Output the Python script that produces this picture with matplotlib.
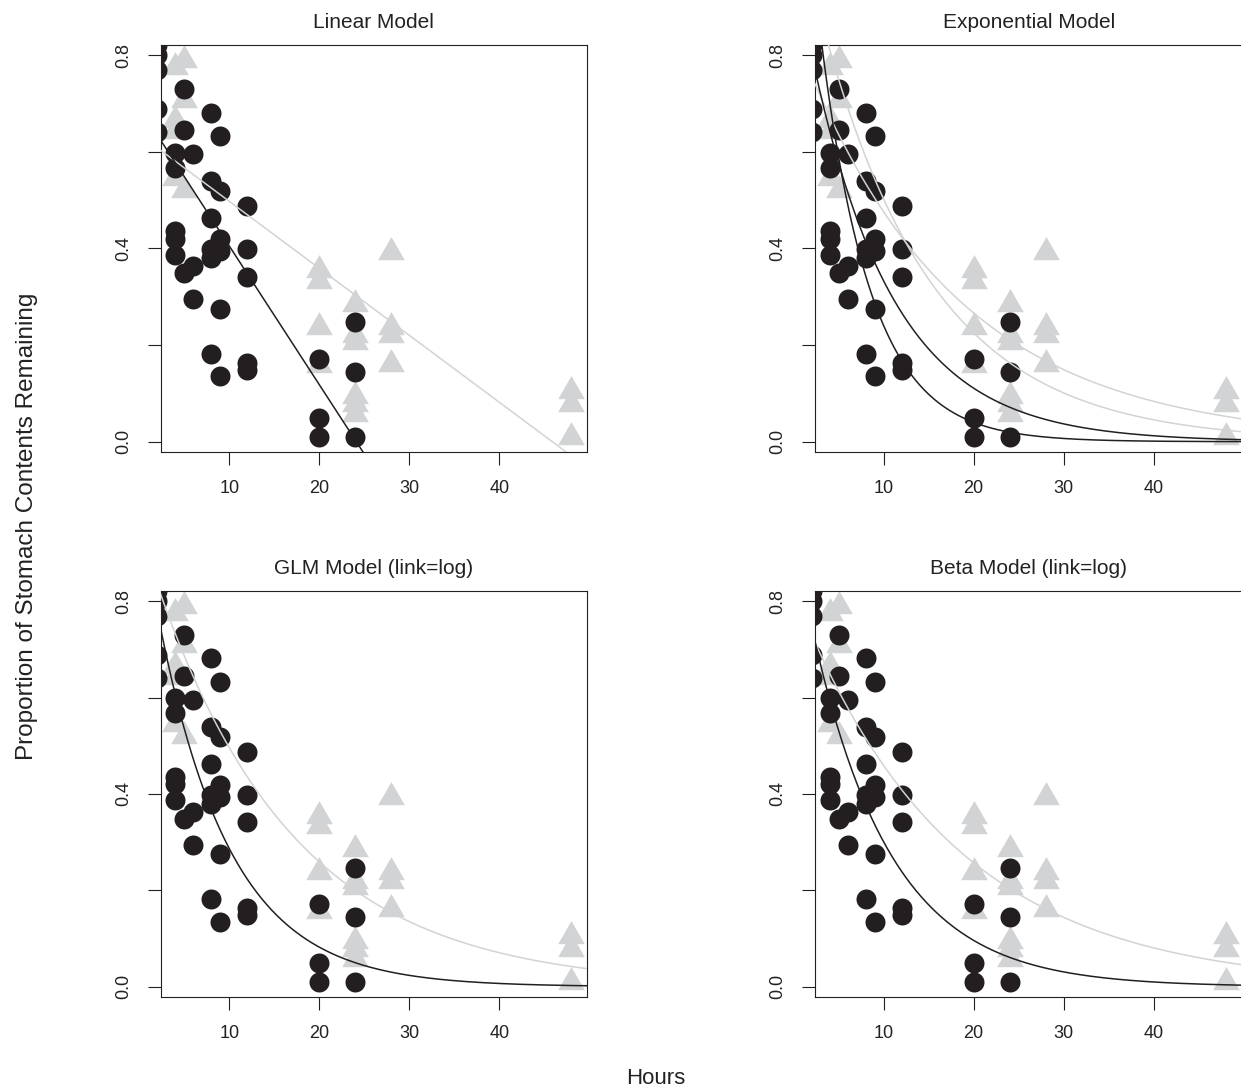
import matplotlib.pyplot as plt
import numpy as np

plt.rcParams['font.family'] = ['Liberation Sans', 'DejaVu Sans']

# observed proportions (black circles)
circle_hours = [2, 2, 2, 2, 2,
                4, 4, 4, 4, 4,
                5, 5, 5,
                6, 6, 6,
                8, 8, 8, 8, 8, 8,
                9, 9, 9, 9, 9, 9,
                12, 12, 12, 12, 12,
                20, 20, 20,
                24, 24, 24]
circle_props = [0.82, 0.80, 0.77, 0.688, 0.64,
                0.598, 0.567, 0.436, 0.420, 0.387,
                0.730, 0.645, 0.349,
                0.595, 0.363, 0.295,
                0.681, 0.539, 0.463, 0.398, 0.380, 0.182,
                0.633, 0.519, 0.419, 0.394, 0.275, 0.135,
                0.488, 0.398, 0.341, 0.163, 0.149,
                0.171, 0.049, 0.010,
                0.247, 0.145, 0.010]

# observed proportions (grey triangles)
tri_hours = [4, 4, 4, 4,
             5, 5, 5,
             20, 20, 20, 20,
             24, 24, 24, 24, 24, 24,
             28, 28, 28, 28,
             48, 48, 48]
tri_props = [0.775, 0.666, 0.642, 0.545,
             0.79, 0.708, 0.521,
             0.355, 0.333, 0.238, 0.158,
             0.285, 0.22, 0.207, 0.095, 0.078, 0.057,
             0.393, 0.237, 0.22, 0.161,
             0.105, 0.078, 0.009]

# fitted coefficients
lin_black = [0.692, -0.0287]       # intercept, slope
lin_grey = [0.636, -0.01386]
exp_black = [[1.44, 0.179], [1.0, 0.11]]   # a * exp(-b * t)
exp_grey = [[0.85, 0.058], [1.12, 0.0802]]
glm_black = [1.0, 0.125]
glm_grey = [0.95, 0.065]
beta_black = [0.94, 0.114]
beta_grey = [0.82, 0.058]

titles = ['Linear Model', 'Exponential Model', 'GLM Model (link=log)', 'Beta Model (link=log)']

dark = '#231f20'
grey = '#d1d3d4'
W, H = 1241, 1090

# R's filled triangle (pch 17) is centred on its centroid
tri_marker = [(0, 1), (-0.866, -0.5), (0.866, -0.5)]

fig = plt.figure(figsize=(W / 100, H / 100), dpi=100)

boxes = [(160.7, 45, 426, 406.7), (815, 45, 428, 406.7),
         (160.7, 591, 426, 405.7), (815, 591, 428, 405.7)]
t = np.linspace(0, 55, 400)

for i, (x0, y0, w, h) in enumerate(boxes):
    ax = fig.add_axes([x0 / W, 1 - (y0 + h) / H, w / W, h / H])
    ax.scatter(tri_hours, tri_props, marker=tri_marker, s=22.2 ** 2, color=grey,
               linewidths=0, zorder=2, clip_on=True)
    ax.scatter(circle_hours, circle_props, marker='o', s=14.4 ** 2, color=dark,
               linewidths=0, zorder=3, clip_on=True)

    if i == 0:
        ax.plot(t, lin_grey[0] + lin_grey[1] * t, color=grey, lw=1.1, zorder=4)
        ax.plot(t, lin_black[0] + lin_black[1] * t, color=dark, lw=1.1, zorder=4)
    elif i == 1:
        for a, b in exp_grey:
            ax.plot(t, a * np.exp(-b * t), color=grey, lw=1.1, zorder=4)
        for a, b in exp_black:
            ax.plot(t, a * np.exp(-b * t), color=dark, lw=1.1, zorder=4)
    elif i == 2:
        ax.plot(t, glm_grey[0] * np.exp(-glm_grey[1] * t), color=grey, lw=1.1, zorder=4)
        ax.plot(t, glm_black[0] * np.exp(-glm_black[1] * t), color=dark, lw=1.1, zorder=4)
    else:
        ax.plot(t, beta_grey[0] * np.exp(-beta_grey[1] * t), color=grey, lw=1.1, zorder=4)
        ax.plot(t, beta_black[0] * np.exp(-beta_black[1] * t), color=dark, lw=1.1, zorder=4)

    ax.set_xlim(2.378, 2.378 + w / 9.0)
    ax.set_ylim(-0.0207, 0.821)
    ax.set_xticks([10, 20, 30, 40])
    ax.set_yticks([0.0, 0.2, 0.4, 0.6, 0.8])
    ax.set_yticklabels(['0.0', '', '0.4', '', '0.8'], rotation=90, va='center')
    ax.tick_params(direction='out', length=9.4, width=0.8, color=dark,
                   labelsize=13, pad=11, labelcolor='#222222')
    for s in ax.spines.values():
        s.set_color(dark)
        s.set_linewidth(0.8)
    ax.set_title(titles[i], fontsize=15, pad=12, color='#222222')

fig.text(656 / W, 1 - 1078 / H, 'Hours', ha='center', va='center', fontsize=16, color='#222222')
fig.text(27 / W, 1 - 526 / H, 'Proportion of Stomach Contents Remaining', ha='center',
         va='center', rotation=90, fontsize=17.5, color='#222222')

fig.savefig('out.png', dpi=100)
